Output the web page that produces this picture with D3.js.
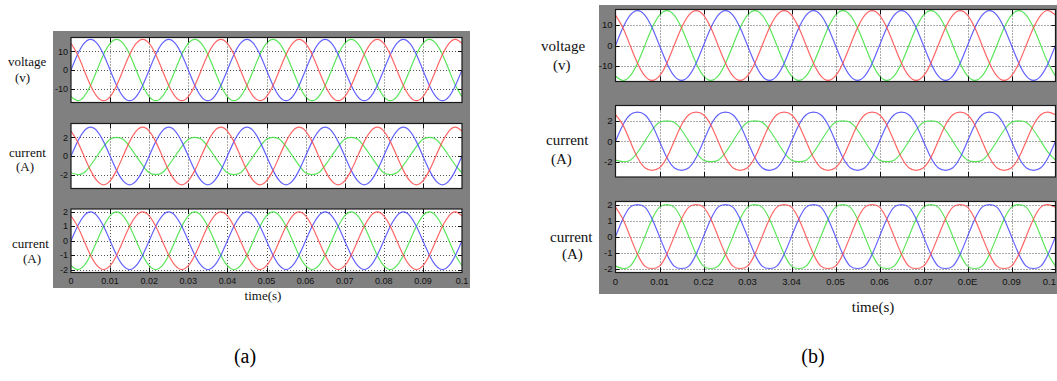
<!DOCTYPE html>
<html>
<head>
<meta charset="utf-8">
<script src="https://cdn.jsdelivr.net/npm/d3@7"></script>
<style>
body{margin:0;background:#fff;overflow:hidden}
</style>
</head>
<body>
<div id="chart"></div>
<script>
// sample instants (s), 12 per 50 Hz cycle
var sampleTimes = [0, .00167, .00333, .005, .00667, .00833, .01, .01167, .01333, .015, .01667, .01833,
    .02, .02167, .02333, .025, .02667, .02833, .03, .03167, .03333, .035, .03667, .03833,
    .04, .04167, .04333, .045, .04667, .04833, .05, .05167, .05333, .055, .05667, .05833,
    .06, .06167, .06333, .065, .06667, .06833, .07, .07167, .07333, .075, .07667, .07833,
    .08, .08167, .08333, .085, .08667, .08833, .09, .09167, .09333, .095, .09667, .09833, .1]

var xTicks = [0, 0.01, 0.02, 0.03, 0.04, 0.05, 0.06, 0.07, 0.08, 0.09, 0.1]
var xTickLabelsA = ["0", "0.01", "0.02", "0.03", "0.04", "0.05", "0.06", "0.07", "0.08", "0.09", "0.1"]
var xTickLabelsB = ["0", "0.01", "0.C2", "0.03", "3.04", "0.05", "0.06", "0.07", "0.0E", "0.09", "0.1"]

var yTicksVoltage = [-10, 0, 10]
var yTicksCurrent = [-2, 0, 2]
var yTicksCurrent2 = [-2, -1, 0, 1, 2]

var rowLabels = [["voltage", "(v)"], ["current", "(A)"], ["current", "(A)"]]
var panelCaptions = ["(a)", "(b)"]
var axisTitle = "time(s)"

// (a) voltage
var aVoltBlue = [0, 8.3, 14.3, 16.5, 14.3, 8.3, 0, -8.3, -14.3, -16.5, -14.3, -8.3,
    0, 8.3, 14.3, 16.5, 14.3, 8.3, 0, -8.3, -14.3, -16.5, -14.3, -8.3,
    0, 8.3, 14.3, 16.5, 14.3, 8.3, 0, -8.3, -14.3, -16.5, -14.3, -8.3,
    0, 8.3, 14.3, 16.5, 14.3, 8.3, 0, -8.3, -14.3, -16.5, -14.3, -8.3,
    0, 8.3, 14.3, 16.5, 14.3, 8.3, 0, -8.3, -14.3, -16.5, -14.3, -8.3, 0]
var aVoltRed = [14.3, 8.3, 0, -8.3, -14.3, -16.5, -14.3, -8.3, 0, 8.3, 14.3, 16.5,
    14.3, 8.3, 0, -8.3, -14.3, -16.5, -14.3, -8.3, 0, 8.3, 14.3, 16.5,
    14.3, 8.3, 0, -8.3, -14.3, -16.5, -14.3, -8.3, 0, 8.3, 14.3, 16.5,
    14.3, 8.3, 0, -8.3, -14.3, -16.5, -14.3, -8.3, 0, 8.3, 14.3, 16.5,
    14.3, 8.3, 0, -8.3, -14.3, -16.5, -14.3, -8.3, 0, 8.3, 14.3, 16.5, 14.3]
var aVoltGreen = [-14.3, -16.5, -14.3, -8.3, 0, 8.3, 14.3, 16.5, 14.3, 8.3, 0, -8.3,
    -14.3, -16.5, -14.3, -8.3, 0, 8.3, 14.3, 16.5, 14.3, 8.3, 0, -8.3,
    -14.3, -16.5, -14.3, -8.3, 0, 8.3, 14.3, 16.5, 14.3, 8.3, 0, -8.3,
    -14.3, -16.5, -14.3, -8.3, 0, 8.3, 14.3, 16.5, 14.3, 8.3, 0, -8.3,
    -14.3, -16.5, -14.3, -8.3, 0, 8.3, 14.3, 16.5, 14.3, 8.3, 0, -8.3, -14.3]

// (a) current, upper
var aCurBlue = [0, 1.55, 2.68, 3.1, 2.68, 1.55, 0, -1.55, -2.68, -3.1, -2.68, -1.55,
    0, 1.55, 2.68, 3.1, 2.68, 1.55, 0, -1.55, -2.68, -3.1, -2.68, -1.55,
    0, 1.55, 2.68, 3.1, 2.68, 1.55, 0, -1.55, -2.68, -3.1, -2.68, -1.55,
    0, 1.55, 2.68, 3.1, 2.68, 1.55, 0, -1.55, -2.68, -3.1, -2.68, -1.55,
    0, 1.55, 2.68, 3.1, 2.68, 1.55, 0, -1.55, -2.68, -3.1, -2.68, -1.55, 0]
var aCurRed = [2.68, 1.55, 0, -1.55, -2.68, -3.1, -2.68, -1.55, 0, 1.55, 2.68, 3.1,
    2.68, 1.55, 0, -1.55, -2.68, -3.1, -2.68, -1.55, 0, 1.55, 2.68, 3.1,
    2.68, 1.55, 0, -1.55, -2.68, -3.1, -2.68, -1.55, 0, 1.55, 2.68, 3.1,
    2.68, 1.55, 0, -1.55, -2.68, -3.1, -2.68, -1.55, 0, 1.55, 2.68, 3.1,
    2.68, 1.55, 0, -1.55, -2.68, -3.1, -2.68, -1.55, 0, 1.55, 2.68, 3.1, 2.68]
var aCurGreen = [-1.8, -2, -1.8, -1, 0, 1, 1.8, 2, 1.8, 1, 0, -1,
    -1.8, -2, -1.8, -1, 0, 1, 1.8, 2, 1.8, 1, 0, -1,
    -1.8, -2, -1.8, -1, 0, 1, 1.8, 2, 1.8, 1, 0, -1,
    -1.8, -2, -1.8, -1, 0, 1, 1.8, 2, 1.8, 1, 0, -1,
    -1.8, -2, -1.8, -1, 0, 1, 1.8, 2, 1.8, 1, 0, -1, -1.8]

// (a) current, lower
var aCur2Blue = [0, 1, 1.73, 2, 1.73, 1, 0, -1, -1.73, -2, -1.73, -1,
    0, 1, 1.73, 2, 1.73, 1, 0, -1, -1.73, -2, -1.73, -1,
    0, 1, 1.73, 2, 1.73, 1, 0, -1, -1.73, -2, -1.73, -1,
    0, 1, 1.73, 2, 1.73, 1, 0, -1, -1.73, -2, -1.73, -1,
    0, 1, 1.73, 2, 1.73, 1, 0, -1, -1.73, -2, -1.73, -1, 0]
var aCur2Red = [1.73, 1, 0, -1, -1.73, -2, -1.73, -1, 0, 1, 1.73, 2,
    1.73, 1, 0, -1, -1.73, -2, -1.73, -1, 0, 1, 1.73, 2,
    1.73, 1, 0, -1, -1.73, -2, -1.73, -1, 0, 1, 1.73, 2,
    1.73, 1, 0, -1, -1.73, -2, -1.73, -1, 0, 1, 1.73, 2,
    1.73, 1, 0, -1, -1.73, -2, -1.73, -1, 0, 1, 1.73, 2, 1.73]
var aCur2Green = [-1.73, -2, -1.73, -1, 0, 1, 1.73, 2, 1.73, 1, 0, -1,
    -1.73, -2, -1.73, -1, 0, 1, 1.73, 2, 1.73, 1, 0, -1,
    -1.73, -2, -1.73, -1, 0, 1, 1.73, 2, 1.73, 1, 0, -1,
    -1.73, -2, -1.73, -1, 0, 1, 1.73, 2, 1.73, 1, 0, -1,
    -1.73, -2, -1.73, -1, 0, 1, 1.73, 2, 1.73, 1, 0, -1, -1.73]

// (b) voltage
var bVoltBlue = [0, 8.6, 14.8, 17, 14.8, 8.6, 0, -8.6, -14.8, -17, -14.8, -8.6,
    0, 8.6, 14.8, 17, 14.8, 8.6, 0, -8.6, -14.8, -17, -14.8, -8.6,
    0, 8.6, 14.8, 17, 14.8, 8.6, 0, -8.6, -14.8, -17, -14.8, -8.6,
    0, 8.6, 14.8, 17, 14.8, 8.6, 0, -8.6, -14.8, -17, -14.8, -8.6,
    0, 8.6, 14.8, 17, 14.8, 8.6, 0, -8.6, -14.8, -17, -14.8, -8.6, 0]
var bVoltRed = [14.8, 8.6, 0, -8.6, -14.8, -17, -14.8, -8.6, 0, 8.6, 14.8, 17,
    14.8, 8.6, 0, -8.6, -14.8, -17, -14.8, -8.6, 0, 8.6, 14.8, 17,
    14.8, 8.6, 0, -8.6, -14.8, -17, -14.8, -8.6, 0, 8.6, 14.8, 17,
    14.8, 8.6, 0, -8.6, -14.8, -17, -14.8, -8.6, 0, 8.6, 14.8, 17,
    14.8, 8.6, 0, -8.6, -14.8, -17, -14.8, -8.6, 0, 8.6, 14.8, 17, 14.8]
var bVoltGreen = [-14.8, -17, -14.8, -8.6, 0, 8.6, 14.8, 17, 14.8, 8.6, 0, -8.6,
    -14.8, -17, -14.8, -8.6, 0, 8.6, 14.8, 17, 14.8, 8.6, 0, -8.6,
    -14.8, -17, -14.8, -8.6, 0, 8.6, 14.8, 17, 14.8, 8.6, 0, -8.6,
    -14.8, -17, -14.8, -8.6, 0, 8.6, 14.8, 17, 14.8, 8.6, 0, -8.6,
    -14.8, -17, -14.8, -8.6, 0, 8.6, 14.8, 17, 14.8, 8.6, 0, -8.6, -14.8]

// (b) current, upper
var bCurBlue = [0, 1.6, 2.6, 2.85, 2.6, 1.6, 0, -1.6, -2.6, -2.85, -2.6, -1.6,
    0, 1.6, 2.6, 2.85, 2.6, 1.6, 0, -1.6, -2.6, -2.85, -2.6, -1.6,
    0, 1.6, 2.6, 2.85, 2.6, 1.6, 0, -1.6, -2.6, -2.85, -2.6, -1.6,
    0, 1.6, 2.6, 2.85, 2.6, 1.6, 0, -1.6, -2.6, -2.85, -2.6, -1.6,
    0, 1.6, 2.6, 2.85, 2.6, 1.6, 0, -1.6, -2.6, -2.85, -2.6, -1.6, 0]
var bCurRed = [2.6, 1.6, 0, -1.6, -2.6, -2.85, -2.6, -1.6, 0, 1.6, 2.6, 2.85,
    2.6, 1.6, 0, -1.6, -2.6, -2.85, -2.6, -1.6, 0, 1.6, 2.6, 2.85,
    2.6, 1.6, 0, -1.6, -2.6, -2.85, -2.6, -1.6, 0, 1.6, 2.6, 2.85,
    2.6, 1.6, 0, -1.6, -2.6, -2.85, -2.6, -1.6, 0, 1.6, 2.6, 2.85,
    2.6, 1.6, 0, -1.6, -2.6, -2.85, -2.6, -1.6, 0, 1.6, 2.6, 2.85, 2.6]
var bCurGreen = [-1.85, -2, -1.85, -1.1, 0, 1.1, 1.85, 2, 1.85, 1.1, 0, -1.1,
    -1.85, -2, -1.85, -1.1, 0, 1.1, 1.85, 2, 1.85, 1.1, 0, -1.1,
    -1.85, -2, -1.85, -1.1, 0, 1.1, 1.85, 2, 1.85, 1.1, 0, -1.1,
    -1.85, -2, -1.85, -1.1, 0, 1.1, 1.85, 2, 1.85, 1.1, 0, -1.1,
    -1.85, -2, -1.85, -1.1, 0, 1.1, 1.85, 2, 1.85, 1.1, 0, -1.1, -1.85]

// (b) current, lower
var bCur2Blue = [0, 1.1, 1.85, 2, 1.85, 1.1, 0, -1.1, -1.85, -2, -1.85, -1.1,
    0, 1.1, 1.85, 2, 1.85, 1.1, 0, -1.1, -1.85, -2, -1.85, -1.1,
    0, 1.1, 1.85, 2, 1.85, 1.1, 0, -1.1, -1.85, -2, -1.85, -1.1,
    0, 1.1, 1.85, 2, 1.85, 1.1, 0, -1.1, -1.85, -2, -1.85, -1.1,
    0, 1.1, 1.85, 2, 1.85, 1.1, 0, -1.1, -1.85, -2, -1.85, -1.1, 0]
var bCur2Red = [1.85, 1.1, 0, -1.1, -1.85, -2, -1.85, -1.1, 0, 1.1, 1.85, 2,
    1.85, 1.1, 0, -1.1, -1.85, -2, -1.85, -1.1, 0, 1.1, 1.85, 2,
    1.85, 1.1, 0, -1.1, -1.85, -2, -1.85, -1.1, 0, 1.1, 1.85, 2,
    1.85, 1.1, 0, -1.1, -1.85, -2, -1.85, -1.1, 0, 1.1, 1.85, 2,
    1.85, 1.1, 0, -1.1, -1.85, -2, -1.85, -1.1, 0, 1.1, 1.85, 2, 1.85]
var bCur2Green = [-1.85, -2, -1.85, -1.1, 0, 1.1, 1.85, 2, 1.85, 1.1, 0, -1.1,
    -1.85, -2, -1.85, -1.1, 0, 1.1, 1.85, 2, 1.85, 1.1, 0, -1.1,
    -1.85, -2, -1.85, -1.1, 0, 1.1, 1.85, 2, 1.85, 1.1, 0, -1.1,
    -1.85, -2, -1.85, -1.1, 0, 1.1, 1.85, 2, 1.85, 1.1, 0, -1.1,
    -1.85, -2, -1.85, -1.1, 0, 1.1, 1.85, 2, 1.85, 1.1, 0, -1.1, -1.85]

var phaseColors = {green: "#3ee03e", blue: "#4848ff", red: "#ff4a4a"}

// layout of the two scope screenshots
var panels = [
    {
        gray: {x: 53, y: 31, w: 417, h: 257},
        left: 71, right: 462,
        rows: [{top: 37.5, bottom: 102.5}, {top: 123.5, bottom: 188.5}, {top: 209, bottom: 272.5}],
        tickLabels: xTickLabelsA, tickY: 283.5, tickFont: 9,
        labelFont: 13, labelX: [[8, 15], [9, 16], [12, 23]], labelY: [[66, 82], [157, 171], [248, 263]],
        title: {x: 263, y: 300, size: 13},
        caption: {x: 245, y: 363},
        series: [
            {domain: [-17.5, 17.5], ticks: yTicksVoltage, blue: aVoltBlue, red: aVoltRed, green: aVoltGreen},
            {domain: [-3.5, 3.5], ticks: yTicksCurrent, blue: aCurBlue, red: aCurRed, green: aCurGreen},
            {domain: [-2.2, 2.2], ticks: yTicksCurrent2, blue: aCur2Blue, red: aCur2Red, green: aCur2Green}
        ],
        curve: d3.curveNatural
    },
    {
        gray: {x: 599, y: 5, w: 460, h: 289},
        left: 615.5, right: 1055.5,
        rows: [{top: 9.5, bottom: 81.5}, {top: 105.5, bottom: 177}, {top: 201.5, bottom: 272.5}],
        tickLabels: xTickLabelsB, tickY: 284.5, tickFont: 9.5,
        labelFont: 15, labelX: [[541, 553], [546, 551], [550, 562]], labelY: [[51, 70], [145, 164], [242, 259]],
        title: {x: 873, y: 312, size: 15},
        caption: {x: 813, y: 363},
        series: [
            {domain: [-17.5, 17.5], ticks: yTicksVoltage, blue: bVoltBlue, red: bVoltRed, green: bVoltGreen},
            {domain: [-3.5, 3.5], ticks: yTicksCurrent, blue: bCurBlue, red: bCurRed, green: bCurGreen},
            {domain: [-2.25, 2.2], ticks: yTicksCurrent2, blue: bCur2Blue, red: bCur2Red, green: bCur2Green}
        ],
        curve: d3.curveNatural
    }
]

var svg = d3.select("#chart").append("svg")
    .attr("width", 1057).attr("height", 381)
    .style("display", "block")

var tickFontFamily = "'Liberation Sans Narrow', 'Arial Narrow', 'Liberation Sans', Arial, sans-serif"
var serif = "'Liberation Serif', 'Times New Roman', serif"

panels.forEach(function(p, pi) {
    var g = svg.append("g").attr("class", "panel" + pi)

    // gray scope window
    g.append("rect")
        .attr("x", p.gray.x).attr("y", p.gray.y)
        .attr("width", p.gray.w).attr("height", p.gray.h)
        .style("fill", "#808080")

    var x = d3.scaleLinear().domain([0, 0.1]).range([p.left, p.right])

    p.rows.forEach(function(r, ri) {
        var s = p.series[ri]
        var y = d3.scaleLinear().domain(s.domain).range([r.bottom, r.top])
        var clipId = "clip" + pi + "_" + ri

        g.append("clipPath").attr("id", clipId)
            .append("rect")
            .attr("x", p.left).attr("y", r.top)
            .attr("width", p.right - p.left).attr("height", r.bottom - r.top)

        g.append("rect")
            .attr("x", p.left).attr("y", r.top)
            .attr("width", p.right - p.left).attr("height", r.bottom - r.top)
            .style("fill", "#fff")

        // dotted grid
        var grid = g.append("g").attr("class", "grid")
        grid.selectAll(".vgrid").data(xTicks.slice(1, -1)).enter()
            .append("line")
            .attr("x1", function(d) { return Math.round(x(d)) + 0.5 })
            .attr("x2", function(d) { return Math.round(x(d)) + 0.5 })
            .attr("y1", r.top).attr("y2", r.bottom)
            .style("stroke", "#555").style("stroke-width", 1)
            .style("stroke-dasharray", "1,2")
        grid.selectAll(".hgrid").data(s.ticks).enter()
            .append("line")
            .attr("y1", function(d) { return Math.round(y(d)) + 0.5 })
            .attr("y2", function(d) { return Math.round(y(d)) + 0.5 })
            .attr("x1", p.left).attr("x2", p.right)
            .style("stroke", "#555").style("stroke-width", 1)
            .style("stroke-dasharray", "1,2")

        // phase traces
        var lines = g.append("g").attr("clip-path", "url(#" + clipId + ")")
        ;["green", "blue", "red"].forEach(function(c) {
            var line = d3.line()
                .x(function(d, i) { return x(sampleTimes[i]) })
                .y(function(d) { return y(d) })
                .curve(p.curve)
            lines.append("path")
                .datum(s[c])
                .attr("d", line)
                .style("fill", "none")
                .style("stroke", phaseColors[c])
                .style("stroke-width", 1.2)
                .style("opacity", 0.85)
        })

        // inside tick marks on all four sides
        var ticks = g.append("g").style("stroke", "#111").style("stroke-width", 1)
        xTicks.slice(1, -1).forEach(function(t) {
            var xx = Math.round(x(t)) + 0.5
            ticks.append("line").attr("x1", xx).attr("x2", xx).attr("y1", r.top).attr("y2", r.top + 5)
            ticks.append("line").attr("x1", xx).attr("x2", xx).attr("y1", r.bottom).attr("y2", r.bottom - 5)
        })
        s.ticks.forEach(function(t) {
            var yy = Math.round(y(t)) + 0.5
            ticks.append("line").attr("x1", p.left).attr("x2", p.left + 4).attr("y1", yy).attr("y2", yy)
            ticks.append("line").attr("x1", p.right).attr("x2", p.right - 4).attr("y1", yy).attr("y2", yy)
        })

        g.append("rect")
            .attr("x", p.left).attr("y", r.top)
            .attr("width", p.right - p.left).attr("height", r.bottom - r.top)
            .style("fill", "none").style("stroke", "#1a1a1a").style("stroke-width", 1.2)

        // y tick labels
        g.append("g").selectAll("text").data(s.ticks).enter()
            .append("text")
            .attr("x", p.left - 3)
            .attr("y", function(d) { return y(d) })
            .attr("dy", "0.35em")
            .attr("text-anchor", "end")
            .style("font-family", tickFontFamily)
            .style("font-size", p.tickFont + "px")
            .style("fill", "#111")
            .text(function(d) { return d })

        // row labels
        g.append("text")
            .attr("x", p.labelX[ri][0]).attr("y", p.labelY[ri][0])
            .style("font-family", serif).style("font-size", p.labelFont + "px")
            .style("fill", "#111")
            .text(rowLabels[ri][0])
        g.append("text")
            .attr("x", p.labelX[ri][1]).attr("y", p.labelY[ri][1])
            .style("font-family", serif).style("font-size", p.labelFont + "px")
            .style("fill", "#111")
            .text(rowLabels[ri][1])
    })

    // time tick labels under the last trace; keep the last one inside the window edge
    g.append("g").selectAll("text").data(xTicks).enter()
        .append("text")
        .attr("x", function(d, i) { return (pi == 1 && i == xTicks.length - 1) ? 1056 : x(d) })
        .attr("y", p.tickY)
        .attr("text-anchor", function(d, i) { return (pi == 1 && i == xTicks.length - 1) ? "end" : "middle" })
        .style("font-family", tickFontFamily)
        .style("font-size", p.tickFont + "px")
        .style("fill", "#111")
        .text(function(d, i) { return p.tickLabels[i] })

    g.append("text")
        .attr("x", p.title.x).attr("y", p.title.y)
        .attr("text-anchor", "middle")
        .style("font-family", serif).style("font-size", p.title.size + "px")
        .style("fill", "#111")
        .text(axisTitle)

    g.append("text")
        .attr("x", p.caption.x).attr("y", p.caption.y)
        .attr("text-anchor", "middle")
        .style("font-family", serif).style("font-size", "20px")
        .style("fill", "#000")
        .text(panelCaptions[pi])
})
</script>
</body>
</html>
